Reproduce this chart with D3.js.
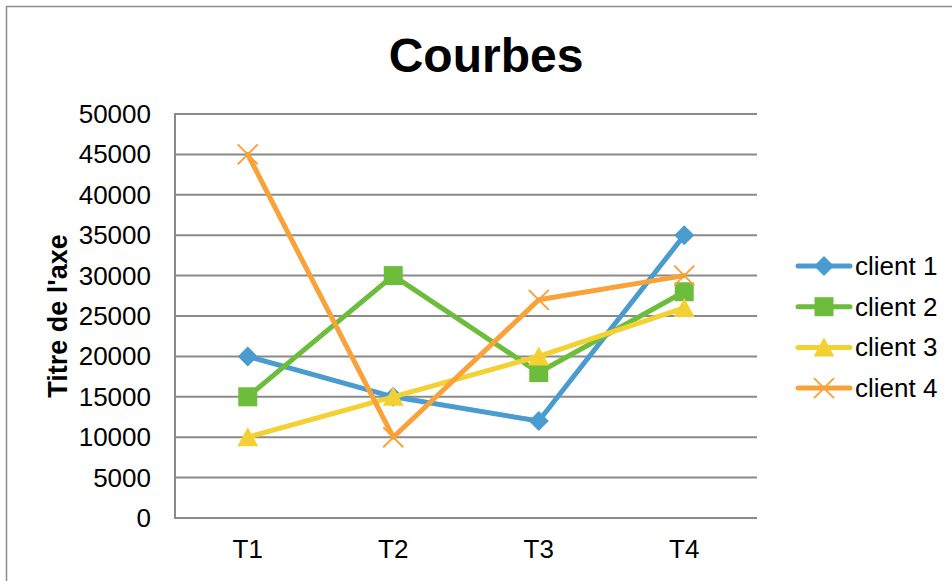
<!DOCTYPE html>
<html>
<head>
<meta charset="utf-8">
<script src="https://cdn.jsdelivr.net/npm/d3@7"></script>
<style>
  body { margin: 0; background: #fff; }
  svg { font-family: Arial, "Liberation Sans", sans-serif; }
</style>
</head>
<body>
<div id="chart"></div>
<script>
const categories = ["T1", "T2", "T3", "T4"];
const seriesNames = ["client 1", "client 2", "client 3", "client 4"];
const client1 = [20000, 15000, 12000, 35000];
const client2 = [15000, 30000, 18000, 28000];
const client3 = [10000, 15000, 20000, 26000];
const client4 = [45000, 10000, 27000, 30000];
const yTicks = [0, 5000, 10000, 15000, 20000, 25000, 30000, 35000, 40000, 45000, 50000];

const COLORS = ["#4a9bcf", "#6cbd3c", "#f3d133", "#f9a23a"];
const SYMBOLS = ["diamond", "square", "triangle", "cross"];
const LINE_WIDTH = 5;
const LABEL_SIZE = 26;

const W = 952, H = 581;
const margin = {left: 175, right: 195, top: 114, bottom: 63};

const svg = d3.select("#chart").append("svg")
    .attr("width", W)
    .attr("height", H);

// outer frame
svg.append("rect")
    .attr("x", 6.5).attr("y", 6.5)
    .attr("width", W + 10).attr("height", H + 10)
    .attr("fill", "none")
    .attr("stroke", "#8c8c8c")
    .attr("stroke-width", 1.5);

const x = d3.scaleBand()
    .domain(categories)
    .range([margin.left, W - margin.right]);

const y = d3.scaleLinear()
    .domain([0, 50000])
    .range([H - margin.bottom, margin.top]);

// title
svg.append("text")
    .attr("x", 486).attr("y", 72)
    .attr("text-anchor", "middle")
    .style("font-size", "48px")
    .style("font-weight", "bold")
    .text("Courbes");

// gridlines
svg.append("g")
    .selectAll("line")
    .data(yTicks)
    .enter()
    .append("line")
    .attr("x1", margin.left).attr("x2", W - margin.right)
    .attr("y1", d => y(d)).attr("y2", d => y(d))
    .attr("stroke", "#8a8a8a")
    .attr("stroke-width", 2);

// y axis line
svg.append("line")
    .attr("x1", margin.left).attr("x2", margin.left)
    .attr("y1", y(0) + 1).attr("y2", y(50000) - 1)
    .attr("stroke", "#8a8a8a")
    .attr("stroke-width", 2);

// y tick labels
svg.append("g")
    .selectAll("text")
    .data(yTicks)
    .enter()
    .append("text")
    .attr("x", 151)
    .attr("y", d => y(d) + 9)
    .attr("text-anchor", "end")
    .style("font-size", LABEL_SIZE + "px")
    .text(d => d);

// x tick labels
svg.append("g")
    .selectAll("text")
    .data(categories)
    .enter()
    .append("text")
    .attr("x", d => x(d) + x.bandwidth() / 2)
    .attr("y", 558)
    .attr("text-anchor", "middle")
    .style("font-size", LABEL_SIZE + "px")
    .text(d => d);

// y axis title
svg.append("text")
    .attr("transform", `translate(67,${(y(0) + y(50000)) / 2}) rotate(-90)`)
    .attr("text-anchor", "middle")
    .style("font-size", "27px")
    .style("font-weight", "bold")
    .text("Titre de l'axe");

const series = [client1, client2, client3, client4].map((values, i) => ({
    name: seriesNames[i],
    color: COLORS[i],
    symbol: SYMBOLS[i],
    values: values
}));

const line = d3.line()
    .x((d, i) => x(categories[i]) + x.bandwidth() / 2)
    .y(d => y(d));

function drawMarker(g, type, color) {
    if (type === "diamond") {
        g.append("path")
            .attr("d", "M0,-10 L10,0 L0,10 L-10,0 Z")
            .attr("fill", color);
    } else if (type === "square") {
        g.append("rect")
            .attr("x", -9.5).attr("y", -9.5)
            .attr("width", 19).attr("height", 19)
            .attr("fill", color);
    } else if (type === "triangle") {
        g.append("path")
            .attr("d", "M0,-10 L10.5,9 L-10.5,9 Z")
            .attr("fill", color);
    } else {
        g.append("path")
            .attr("d", "M-10,-10 L10,10 M-10,10 L10,-10")
            .attr("stroke", color)
            .attr("stroke-width", 2)
            .attr("fill", "none");
    }
}

const seriesG = svg.append("g")
    .selectAll("g")
    .data(series)
    .enter()
    .append("g");

seriesG.append("path")
    .attr("d", d => line(d.values))
    .attr("fill", "none")
    .attr("stroke", d => d.color)
    .attr("stroke-width", LINE_WIDTH)
    .attr("stroke-linejoin", "round")
    .attr("stroke-linecap", "round");

seriesG.each(function (s) {
    const g = d3.select(this);
    s.values.forEach((v, i) => {
        const m = g.append("g")
            .attr("transform", `translate(${x(categories[i]) + x.bandwidth() / 2},${y(v)})`);
        drawMarker(m, s.symbol, s.color);
    });
});

// legend
const legend = svg.append("g")
    .selectAll("g")
    .data(series)
    .enter()
    .append("g")
    .attr("transform", (d, i) => `translate(0,${266 + i * 40.7})`);

legend.append("line")
    .attr("x1", 798).attr("x2", 850)
    .attr("y1", 0).attr("y2", 0)
    .attr("stroke", d => d.color)
    .attr("stroke-width", LINE_WIDTH)
    .attr("stroke-linecap", "round");

legend.each(function (s) {
    const m = d3.select(this).append("g").attr("transform", "translate(824,0)");
    drawMarker(m, s.symbol, s.color);
});

legend.append("text")
    .attr("x", 855)
    .attr("y", 9)
    .style("font-size", LABEL_SIZE + "px")
    .text(d => d.name);
</script>
</body>
</html>
